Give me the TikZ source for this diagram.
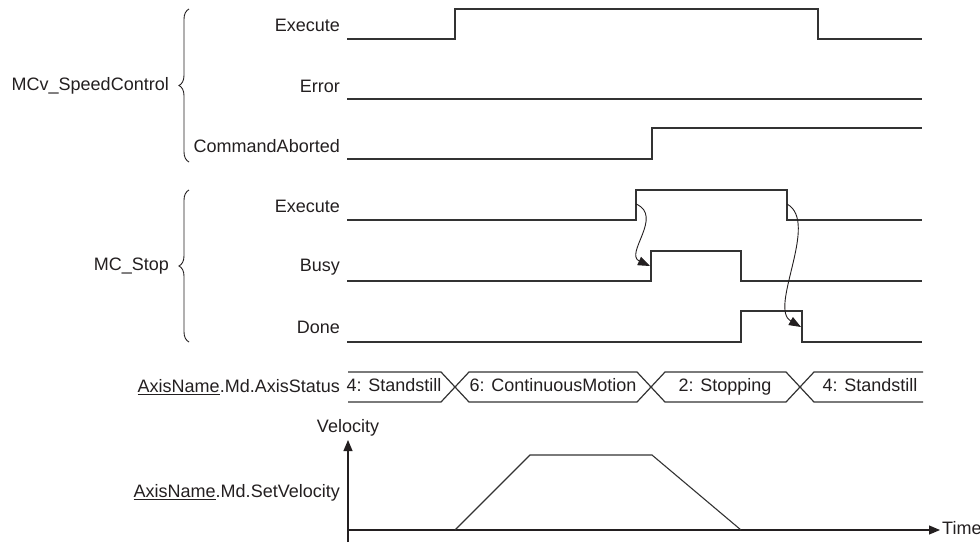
\documentclass[tikz,border=0pt]{standalone}
\usepackage{fontspec}
\setmainfont{Liberation Sans}
\usetikzlibrary{arrows.meta,positioning,decorations.pathreplacing}
\definecolor{ink}{HTML}{231F20}
\definecolor{wire}{HTML}{333333}
\tikzset{
  every picture/.style={color=ink, font=\fontsize{18}{21}\selectfont},
  lbl/.style={anchor=east, inner sep=0pt, text=ink},
  grp/.style={anchor=east, inner sep=0pt, text=ink},
  state/.style={inner sep=0pt, text height=13pt, text depth=4pt, text=ink},
  sig/.style={draw=wire, line width=1.3pt, line join=miter},
  bus/.style={draw=wire, line width=1.2pt},
  brace/.style={draw=ink, line width=0.9pt, decorate, decoration={brace, amplitude=10pt}},
  cause/.style={draw=ink, line width=0.9pt, -{Triangle[length=12pt, width=9pt]}},
  axis/.style={draw=ink, line width=1.1pt, -{Triangle[length=11pt, width=9pt]}},
}
\begin{document}
\begin{tikzpicture}[x=1pt, y=-1pt]
\useasboundingbox (0,0) rectangle (980,542);
\node[lbl] (mcvExe) at (340,25) {Execute};
\node[lbl] (mcvErr) at (340,86) {Error};
\node[lbl] (mcvAbt) at (340,146) {CommandAborted};
\node[lbl] (stpExe) at (340,206) {Execute};
\node[lbl] (stpBusy) at (340,267) {Busy};
\node[lbl] (stpDone) at (340,327) {Done};
\node[lbl] (axStatus) at (340,387) {\underline{AxisName}.Md.AxisStatus};
\node[lbl] (axVel) at (340,493) {\underline{AxisName}.Md.SetVelocity};
\node[grp] (mcv) at (169,86) {MCv\_SpeedControl};
\node[grp] (stop) at (169,266) {MC\_Stop};
\draw[brace] (189,162) -- (189,9);
\draw[brace] (189,342) -- (189,190);
\draw[sig] (347,39) -- (455,39) -- (455,9) -- (818,9) -- (818,39) -- (922,39);
\draw[sig] (347,99) -- (922,99);
\draw[sig] (347,159) -- (652,159) -- (652,128) -- (922,128);
\draw[sig] (347,220) -- (636,220) -- (636,190) -- (787,190) -- (787,220) -- (922,220);
\draw[sig] (347,281) -- (651,281) -- (651,251) -- (741,251) -- (741,281) -- (922,281);
\draw[sig] (347,342) -- (741,342) -- (741,311) -- (802,311) -- (802,342) -- (922,342);
\coordinate (exeUp) at (636,204);
\coordinate (busyUp) at (650,266);
\coordinate (exeDown) at (787,204);
\coordinate (doneDown) at (801,327);
\draw[cause] (exeUp) .. controls (664,216) and (624,254) .. (busyUp);
\draw[cause] (exeDown) .. controls (820,222) and (768,308) .. (doneDown);
\draw[bus] (348,372) -- (441,372) -- (469,402) -- (637,402) -- (665,372) -- (786,372) -- (814,402) -- (923,402);
\draw[bus] (348,402) -- (441,402) -- (469,372) -- (637,372) -- (665,402) -- (786,402) -- (814,372) -- (923,372);
\node[state] (st1) at (394,387) {4: Standstill};
\node[state] (st2) at (553,387) {6: ContinuousMotion};
\node[state] (st3) at (725,387) {2: Stopping};
\node[state] (st4) at (870,387) {4: Standstill};
\coordinate (origin) at (348,530);
\coordinate (vTop) at (348,440);
\coordinate (tEnd) at (940,530);
\draw[axis] (348,542) -- (vTop);
\draw[axis] (origin) -- (tEnd);
\node[state, above=3pt of vTop] (velo) {Velocity};
\node[state, right=2pt of tEnd] (time) {Time};
\draw[sig, line width=1.1pt] (455,530) -- (530,455) -- (652,455) -- (741,530);
\end{tikzpicture}
\end{document}
